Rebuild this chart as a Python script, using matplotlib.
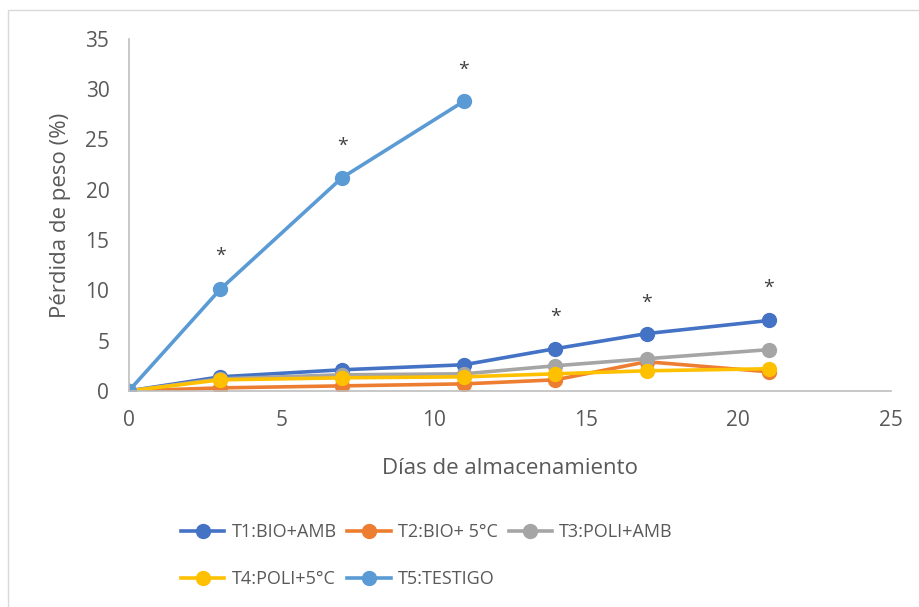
import matplotlib.pyplot as plt
from matplotlib.patches import Rectangle

plt.rcParams['font.family'] = ['Open Sans', 'DejaVu Sans']

dias = [0, 3, 7, 11, 14, 17, 21]
dias_t5 = [0, 3, 7, 11]

t1 = [0, 1.4, 2.1, 2.6, 4.2, 5.7, 7.0]
t2 = [0, 0.3, 0.5, 0.7, 1.1, 2.9, 1.9]
t3 = [0, 1.2, 1.6, 1.7, 2.5, 3.2, 4.1]
t4 = [0, 1.1, 1.3, 1.4, 1.7, 2.0, 2.2]
t5 = [0, 10.1, 21.2, 28.8]

nombres = ['T1:BIO+AMB', 'T2:BIO+ 5°C', 'T3:POLI+AMB', 'T4:POLI+5°C', 'T5:TESTIGO']
colores = ['#4472C4', '#ED7D31', '#A5A5A5', '#FFC000', '#5B9BD5']

# asteriscos de significancia
ast_x = [3, 7, 11, 14, 17, 21]
ast_y = [13.4, 24.4, 31.9, 7.4, 8.8, 10.2]

txt = '#595959'

fig = plt.figure(figsize=(9.2, 6.07), dpi=100)
ax = fig.add_axes([0.140, 0.356, 0.828, 0.580])

series = [(dias, t1), (dias, t2), (dias, t3), (dias, t4), (dias_t5, t5)]
handles = []
for (x, y), n, c in zip(series, nombres, colores):
    h, = ax.plot(x, y, color=c, lw=2.6, marker='o', ms=10, label=n)
    handles.append(h)

for x, y in zip(ast_x, ast_y):
    ax.text(x, y, '*', ha='center', va='center', fontsize=14, color='#404040')

ax.set_xlim(0, 25)
ax.set_ylim(0, 35)
ax.set_xticks(range(0, 26, 5))
ax.set_yticks(range(0, 36, 5))
ax.tick_params(length=0, labelsize=15, colors=txt, pad=14)
for s in ['top', 'right']:
    ax.spines[s].set_visible(False)
for s in ['left', 'bottom']:
    ax.spines[s].set_color('#BFBFBF')
    ax.spines[s].set_linewidth(1.2)
ax.set_xlabel('Días de almacenamiento', fontsize=16, color=txt, labelpad=19)
ax.set_ylabel('Pérdida de peso (%)', fontsize=16, color=txt, labelpad=10)

orden = [0, 3, 1, 4, 2]
leg = fig.legend([handles[i] for i in orden], [nombres[i] for i in orden],
                 ncol=3, loc='upper left', bbox_to_anchor=(0.179, 0.165),
                 frameon=False, fontsize=13, handlelength=2.4,
                 columnspacing=0.6, labelspacing=1.6, handletextpad=0.4)
for t in leg.get_texts():
    t.set_color(txt)

fig.patches.append(Rectangle((8 / 920, -0.01), 1.0, 1 - 10 / 607 + 0.01,
                             transform=fig.transFigure, fill=False,
                             edgecolor='#D9D9D9', lw=1))

fig.savefig('out.png')
